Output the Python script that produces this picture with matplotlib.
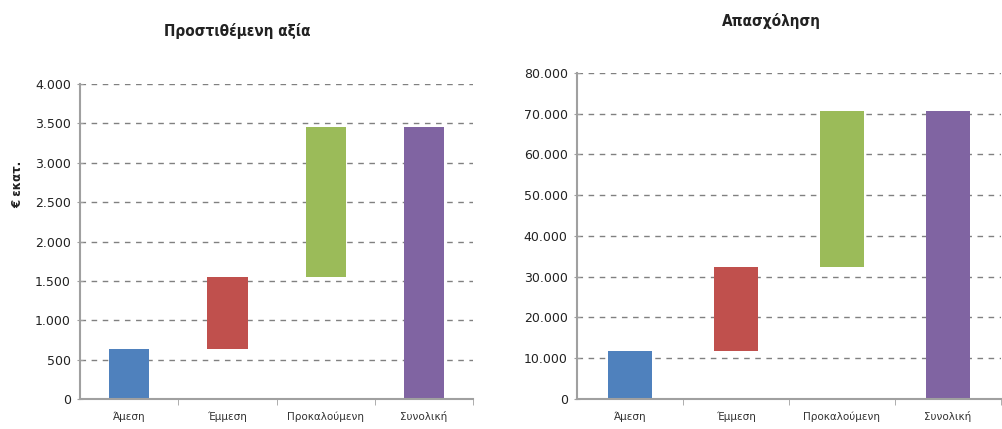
import numpy as np
import matplotlib
matplotlib.use('Agg')
import matplotlib.pyplot as plt
from matplotlib.ticker import FuncFormatter, MultipleLocator

categories = ['Άμεση', 'Έμμεση', 'Προκαλούμενη', 'Συνολική']
colors = ['#4F81BD', '#C0504D', '#9BBB59', '#8064A2']

# προστιθέμενη αξία (€ εκατ.)
gva_parts = [640, 910, 1900]
# απασχόληση
emp_parts = [11800, 20700, 38200]


def waterfall(parts):
    parts = np.array(parts, dtype=float)
    bottoms = np.concatenate([[0], np.cumsum(parts)[:-1], [0]])
    heights = np.concatenate([parts, [parts.sum()]])
    return bottoms, heights


def thousands(v, pos):
    return f'{int(round(v)):,}'.replace(',', '.')


def style_axes(ax, ymax, step):
    ax.set_xlim(-0.5, 3.5)
    ax.set_ylim(0, ymax)
    ax.yaxis.set_major_locator(MultipleLocator(step))
    ax.yaxis.set_major_formatter(FuncFormatter(thousands))
    ax.set_xticks(range(4))
    ax.set_xticklabels(categories, fontsize=7.5, color='#333333')
    ax.set_xticks([0.5, 1.5, 2.5, 3.5], minor=True)
    ax.tick_params(axis='x', which='major', length=0, pad=9)
    ax.tick_params(axis='x', which='minor', length=4, color='#a0a0a0', direction='out')
    ax.tick_params(axis='y', length=5, color='#a0a0a0', direction='inout', labelsize=9,
                   labelcolor='#222222', pad=4)
    ax.grid(axis='y', linestyle=(0, (4, 4)), color='#808080', linewidth=1)
    ax.set_axisbelow(True)
    for s in ['top', 'right']:
        ax.spines[s].set_visible(False)
    for s in ['left', 'bottom']:
        ax.spines[s].set_color('#a0a0a0')
        ax.spines[s].set_linewidth(1.5)


fig = plt.figure(figsize=(10.03, 4.29), dpi=100)
ax1 = fig.add_axes([0.0798, 0.070, 0.3918, 0.734])
ax2 = fig.add_axes([0.575, 0.070, 0.423, 0.760])

b, h = waterfall(gva_parts)
ax1.bar(range(4), h, bottom=b, width=0.41, color=colors)
style_axes(ax1, 4000, 500)

b, h = waterfall(emp_parts)
ax2.bar(range(4), h, bottom=b, width=0.41, color=colors)
style_axes(ax2, 80000, 10000)

fig.text(0.237, 0.928, 'Προστιθέμενη αξία', ha='center', va='center', fontsize=11,
         fontweight='bold', fontstretch='condensed', color='#222222')
fig.text(0.769, 0.950, 'Απασχόληση', ha='center', va='center', fontsize=11,
         fontweight='bold', fontstretch='condensed', color='#222222')
fig.text(0.018, 0.57, '€ εκατ.', ha='center', va='center', rotation=90, fontsize=8.5,
         fontweight='bold', color='#222222')

fig.savefig('out.png', dpi=100)
